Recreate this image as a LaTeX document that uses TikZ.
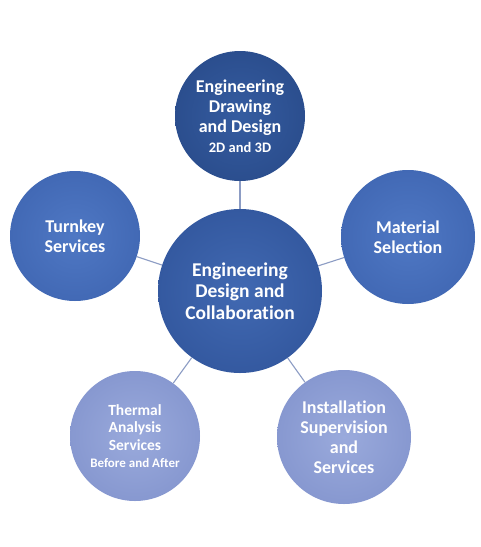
\documentclass[tikz,border=0pt]{standalone}
\usepackage{fontspec}
\setmainfont{Carlito}[Ligatures={NoCommon}]
\definecolor{dkin}{HTML}{355CA0}
\definecolor{dkout}{HTML}{2B4E8E}
\definecolor{cin}{HTML}{4169B2}
\definecolor{cout}{HTML}{3459A0}
\definecolor{min}{HTML}{4F78C4}
\definecolor{mout}{HTML}{4269B5}
\definecolor{lin}{HTML}{9AAADC}
\definecolor{lout}{HTML}{8798D0}
\definecolor{lnk}{HTML}{8C9CC4}
\tikzset{
  bub/.style={circle, minimum size=130pt, inner sep=0pt, align=center,
    text=white, font=\bfseries\fontsize{18}{20}\selectfont},
  dkbub/.style={bub, shade, inner color=dkin, outer color=dkout},
  cbub/.style={bub, minimum size=164pt, shade, inner color=cin, outer color=cout,
    font=\bfseries\fontsize{19.5}{21.5}\selectfont},
  mbub/.style={bub, shade, inner color=min, outer color=mout},
  lbub/.style={bub, shade, inner color=lin, outer color=lout},
  lnkline/.style={draw=lnk, line width=1.1pt}
}
\begin{document}
\begin{tikzpicture}[x=1pt,y=-1pt]
\useasboundingbox (0,0) rectangle (480,547);
\fill[white] (0,0) rectangle (480,547);
\node[cbub] (c) at (240,291) {Engineering\\Design and\\Collaboration};
\node[dkbub] (t) at (240,116) {Engineering\\Drawing\\and Design\\{\fontsize{14.5}{18}\selectfont 2D and 3D}};
\node[mbub] (l) at (75,236) {Turnkey\\Services};
\node[mbub, minimum size=134pt] (r) at (408,237) {Material\\Selection};
\node[lbub, font=\bfseries\fontsize{15.5}{17.5}\selectfont] (bl) at (135,436) {Thermal\\Analysis\\Services\\{\fontsize{13}{15}\selectfont Before and After}};
\node[lbub, minimum size=134pt] (br) at (344,437) {Installation\\Supervision\\and\\Services};
\draw[lnkline] (c) -- (t);
\draw[lnkline] (c) -- (l);
\draw[lnkline] (c) -- (r);
\draw[lnkline] (c) -- (bl);
\draw[lnkline] (c) -- (br);
\end{tikzpicture}
\end{document}
